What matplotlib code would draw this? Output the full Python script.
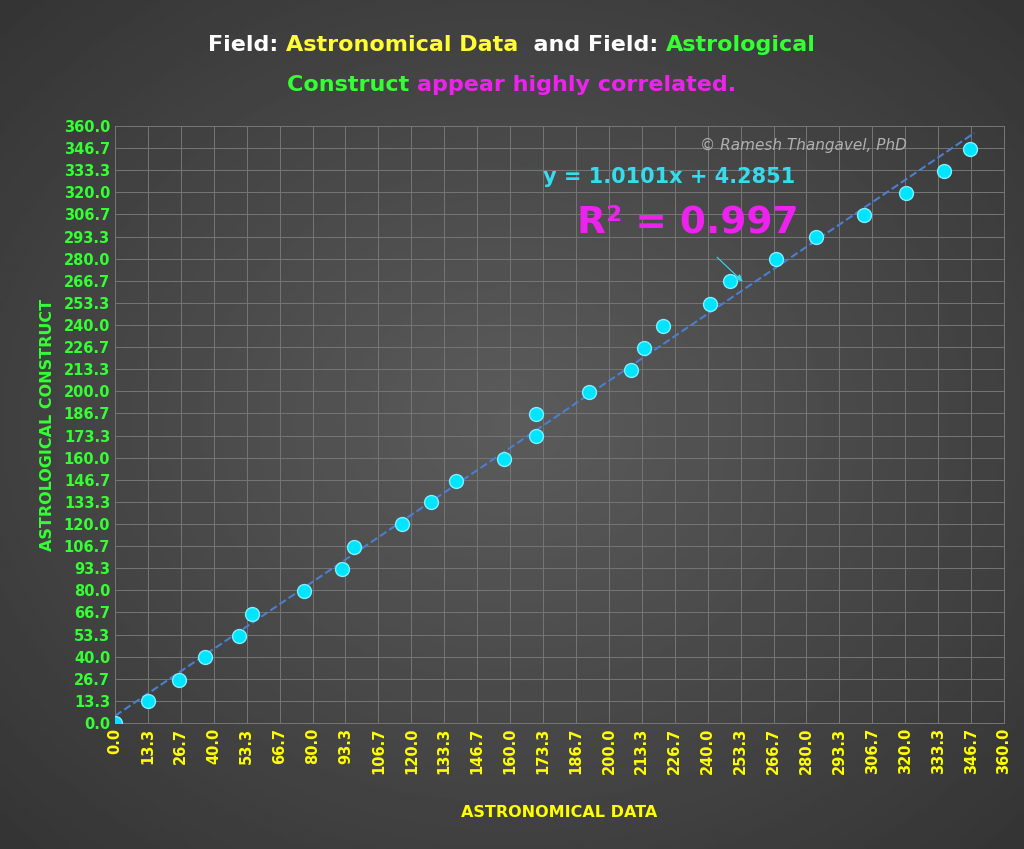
import matplotlib
matplotlib.use("Agg")
import matplotlib.pyplot as plt
import numpy as np

astronomical = [0, 13.4, 25.9, 36.5, 50.2, 55.5, 76.5, 91.9, 96.8, 116.2, 128.0, 138.1, 157.6,
                170.5, 170.5, 192.0, 209.0, 214.3, 222.0, 241.0, 249.0, 267.7, 283.9, 303.4,
                320.4, 335.8, 346.3]
astrological = [0, 13.3, 25.9, 39.8, 52.5, 65.7, 79.6, 92.9, 106.2, 120.0, 133.3, 146.0, 159.2,
                173.1, 186.4, 199.6, 212.9, 226.2, 239.4, 252.7, 266.6, 279.9, 293.1, 306.4,
                319.7, 332.9, 346.2]
slope, intercept = 1.0101, 4.2851
ticks = [i * 360 / 27 for i in range(28)]

fig = plt.figure(figsize=(10.24, 8.49), dpi=100)
bg = fig.add_axes([0, 0, 1, 1], zorder=-10)
yy, xx = np.mgrid[0:1:300j, 0:1:300j]
r = np.sqrt((xx - 0.5) ** 2 + (yy - 0.5) ** 2)
bg.imshow(0.36 - 0.22 * r, cmap="gray", vmin=0, vmax=1, extent=[0, 1, 0, 1], aspect="auto")
bg.axis("off")

ax = fig.add_axes([115 / 1024, 1 - 723 / 849, 889 / 1024, 597 / 849])
ax.patch.set_alpha(0)
ax.set_xlim(0, 360)
ax.set_ylim(0, 360)
ax.set_xticks(ticks)
ax.set_yticks(ticks)
ax.set_xticklabels([f"{t:.1f}" for t in ticks], rotation=90, color="#ffff00", fontweight="bold", fontsize=10.5)
ax.set_yticklabels([f"{t:.1f}" for t in ticks], color="#33ff33", fontweight="bold", fontsize=10.5)
ax.grid(True, color="#767676", lw=0.7)
ax.tick_params(length=0)
for s in ax.spines.values():
    s.set_color("#767676")
    s.set_linewidth(0.7)
ax.set_axisbelow(True)

xl = np.array([0, 348])
ax.plot(xl, slope * xl + intercept, ls="--", color="#4a7fd0", lw=1.5, zorder=2)
ax.scatter(astronomical, astrological, s=100, color="#00e5ff", edgecolor="#7fefff", lw=1.0, zorder=3)

ax.set_xlabel("ASTRONOMICAL DATA", color="#ffff00", fontweight="bold", fontsize=11.5, labelpad=22)
ax.set_ylabel("ASTROLOGICAL CONSTRUCT", color="#33ff33", fontweight="bold", fontsize=11.5, labelpad=6)

ax.text(0.658, 0.968, "© Ramesh Thangavel, PhD", transform=ax.transAxes, color="#b0b0b0",
        style="italic", fontsize=11, va="center")
ax.text(0.482, 0.915, f"y = {slope}x + {intercept}", transform=ax.transAxes, color="#33ddee",
        fontweight="bold", fontsize=15, va="center")
ax.text(0.52, 0.839, "R² = 0.997", transform=ax.transAxes, color="#ee22ee",
        fontweight="bold", fontsize=27, va="center")
ax.annotate("", xy=(255, 265), xytext=(243, 282),
            arrowprops=dict(arrowstyle="-|>", color="#33ddee", lw=0.8))

def line(parts, y):
    fig.canvas.draw()
    r = fig.canvas.get_renderer()
    texts = []
    for s, c in parts:
        t = fig.text(0, y, s, color=c, fontsize=16, fontweight="bold", va="center")
        texts.append(t)
    widths = [t.get_window_extent(r).width for t in texts]
    x = 512 - sum(widths) / 2
    for t, w in zip(texts, widths):
        t.set_x(x / 1024)
        x += w

line([("Field: ", "white"), ("Astronomical Data", "#ffff33"), ("  and Field: ", "white"),
      ("Astrological", "#33ff33")], 1 - 45 / 849)
line([("Construct ", "#33ff33"), ("appear highly correlated.", "#ee22ee")], 1 - 85 / 849)

fig.savefig("out.png", dpi=100)
